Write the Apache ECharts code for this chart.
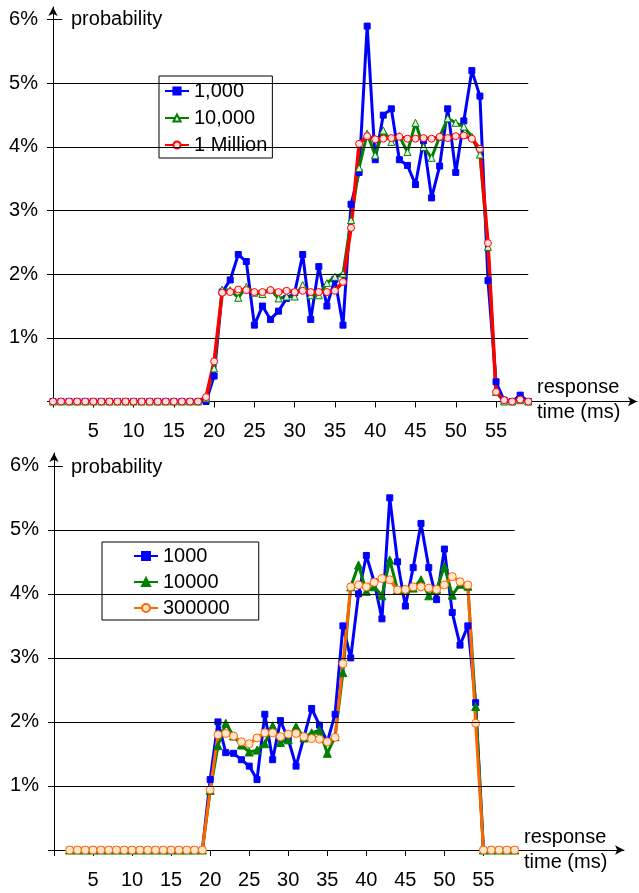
<!DOCTYPE html>
<html><head><meta charset="utf-8">
<script src="https://cdn.jsdelivr.net/npm/echarts@6/dist/echarts.min.js"></script>
<style>html,body{margin:0;padding:0;background:#fff}#c{width:639px;height:893px}</style>
</head><body><div id="c"></div>
<script>
// ---------- data ----------
const topX = [0,1,2,3,4,5,6,7,8,9,10,11,12,13,14,15,16,17,18,19,20,21,22,23,24,25,26,27,28,29,30,31,32,33,34,35,36,37,38,39,40,41,42,43,44,45,46,47,48,49,50,51,52,53,54,55,56,57,58,59];
const topBlue = [0,0,0,0,0,0,0,0,0,0,0,0,0,0,0,0,0,0,0,0,
  0.40,1.72,1.91,2.31,2.20,1.20,1.50,1.29,1.42,1.62,
  1.71,2.31,1.29,2.12,1.50,1.92,1.20,3.10,3.60,5.90,
  3.80,4.50,4.60,3.80,3.71,3.41,4.10,3.20,3.70,4.60,
  3.60,4.41,5.20,4.80,1.90,0.31,0.02,0,0.10,0];
const topGreen = [0,0,0,0,0,0,0,0,0,0,0,0,0,0,0,0,0,0,0,0.05,
  0.52,1.76,1.75,1.63,1.80,1.71,1.69,1.76,1.62,1.65,
  1.65,1.83,1.67,1.67,1.86,1.96,2.01,2.85,3.67,4.21,
  3.87,4.26,4.08,4.17,3.92,4.38,4.00,3.83,4.16,4.45,
  4.38,4.32,4.16,3.88,2.43,0.15,0,0,0.02,0];
const topRed = [0,0,0,0,0,0,0,0,0,0,0,0,0,0,0,0,0,0,0,0.07,
  0.63,1.71,1.72,1.76,1.75,1.72,1.72,1.75,1.72,1.74,
  1.72,1.74,1.72,1.72,1.72,1.74,1.88,2.73,4.05,4.17,
  4.12,4.13,4.14,4.16,4.13,4.13,4.14,4.13,4.16,4.14,
  4.17,4.18,4.13,3.97,2.49,0.15,0.02,0,0.03,0];
const topNames = ['1,000','10,000','1 Million'];

const botX = [2,3,4,5,6,7,8,9,10,11,12,13,14,15,16,17,18,19,20,21,22,23,24,25,26,27,28,29,30,31,32,33,34,35,36,37,38,39,40,41,42,43,44,45,46,47,48,49,50,51,52,53,54,55,56,57,58,59];
const botBlue = [0,0,0,0,0,0,0,0,0,0,0,0,0,0,0,0,0,0,
  1.10,2.00,1.52,1.51,1.41,1.31,1.10,2.12,1.41,2.02,
  1.73,1.31,1.76,2.21,1.95,1.69,2.12,3.50,3.00,4.00,
  4.60,4.19,3.61,5.50,4.50,3.81,4.41,5.10,4.41,3.91,
  4.70,3.71,3.20,3.50,2.30,0,0,0,0,0];
const botGreen = [0,0,0,0,0,0,0,0,0,0,0,0,0,0,0,0,0,0,
  0.93,1.63,1.98,1.78,1.64,1.53,1.56,1.66,1.94,1.68,
  1.72,1.93,1.75,1.83,1.87,1.51,1.77,2.77,4.11,4.45,
  4.04,4.11,3.97,4.53,4.06,4.07,4.09,4.22,3.97,4.07,
  4.43,3.98,4.15,4.12,2.24,0,0,0,0,0];
const botOrange = [0,0,0,0,0,0,0,0,0,0,0,0,0,0,0,0,0,0,
  0.94,1.80,1.82,1.78,1.69,1.66,1.75,1.83,1.83,1.77,
  1.81,1.82,1.77,1.74,1.73,1.69,1.76,2.91,4.11,4.14,
  4.11,4.18,4.24,4.22,4.06,4.07,4.11,4.11,4.09,4.07,
  4.14,4.27,4.19,4.14,1.98,0,0,0,0,0];
const botNames = ['1000','10000','300000'];

const xTickValues = [0,5,10,15,20,25,30,35,40,45,50,55];
const xLabelValues = [5,10,15,20,25,30,35,40,45,50,55];
const yTickValues = [0,1,2,3,4,5,6];
const yLabelValues = [1,2,3,4,5,6];
const yGridValues = [1,2,3,4,5];
const xGridEnd = 59;

// ---------- chart ----------
const FONT = '"Liberation Sans", Arial, sans-serif';
function pairs(xs, ys) { return xs.map((x, i) => [x, ys[i]]); }

function xAxisCfg(gi, max) {
  return {
    type: 'value', gridIndex: gi, min: 0, max: max,
    axisLine: { show: true, onZero: false, lineStyle: { color: '#000', width: 1 }, symbol: ['none', 'arrow'], symbolSize: [7, 9] },
    axisTick: { show: true, inside: false, length: 6, customValues: xTickValues, lineStyle: { color: '#000', width: 1 } },
    axisLabel: { customValues: xLabelValues, margin: 20, color: '#000', fontSize: 20, fontFamily: FONT },
    splitLine: { show: false }
  };
}
function yAxisCfg(gi) {
  return {
    type: 'value', gridIndex: gi, min: 0, max: 6.2,
    axisLine: { show: true, onZero: false, lineStyle: { color: '#000', width: 1 }, symbol: ['none', 'arrow'], symbolSize: [7, 9] },
    axisTick: { show: true, inside: false, length: 6, customValues: yTickValues, lineStyle: { color: '#000', width: 1 } },
    axisLabel: { customValues: yLabelValues, margin: 15, color: '#000', fontSize: 20, fontFamily: FONT, formatter: v => v + '%' },
    splitLine: { show: false }
  };
}
function gridSeries(gi) {
  const d = yGridValues.map(v => [{ coord: [0, v] }, { coord: [xGridEnd, v] }]);
  d.push([{ coord: [0, 6] }, { coord: [1.15, 6] }]);
  return {
    type: 'line', xAxisIndex: gi, yAxisIndex: gi, data: [], z: 1, silent: true,
    markLine: { silent: true, symbol: ['none', 'none'], label: { show: false },
      lineStyle: { color: '#000', width: 1, type: 'solid' }, emphasis: { disabled: true }, data: d }
  };
}
function lineSeries(gi, name, xs, ys, color, symbol, size, fill, lw) {
  return {
    type: 'line', name: name, xAxisIndex: gi, yAxisIndex: gi, z: 3,
    data: pairs(xs, ys), symbol: symbol, symbolSize: size, showAllSymbol: true,
    lineStyle: { color: color, width: lw },
    itemStyle: { color: fill, borderColor: color, borderWidth: 1 },
    emphasis: { disabled: true }
  };
}

const chart = echarts.init(document.getElementById('c'));
chart.setOption({
  animation: false,
  backgroundColor: '#fff',
  grid: [
    { left: 53, top: 7, width: 584, height: 394.5 },
    { left: 54, top: 453, width: 570, height: 397 }
  ],
  xAxis: [xAxisCfg(0, 72.5), xAxisCfg(1, 73)],
  yAxis: [yAxisCfg(0), yAxisCfg(1)],
  legend: [
    { data: topNames, orient: 'vertical', left: 159, top: 76, padding: [5, 5, 3, 5], itemGap: 7,
      itemWidth: 24, itemHeight: 9, borderColor: '#000', borderWidth: 1, backgroundColor: '#fff',
      textStyle: { color: '#000', fontSize: 20, fontFamily: FONT } },
    { data: botNames, orient: 'vertical', left: 102, top: 542, padding: [4, 29, 2, 31], itemGap: 6,
      itemWidth: 24, itemHeight: 10, borderColor: '#000', borderWidth: 1, backgroundColor: '#fff',
      textStyle: { color: '#000', fontSize: 20, fontFamily: FONT } }
  ],
  graphic: [
    { type: 'text', x: 71, y: 19, style: { text: 'probability', fontSize: 20, fontFamily: FONT, fill: '#000', verticalAlign: 'middle' } },
    { type: 'text', x: 537, y: 387, style: { text: 'response', fontSize: 20, fontFamily: FONT, fill: '#000', verticalAlign: 'middle' } },
    { type: 'text', x: 537, y: 412, style: { text: 'time (ms)', fontSize: 20, fontFamily: FONT, fill: '#000', verticalAlign: 'middle' } },
    { type: 'text', x: 71, y: 467, style: { text: 'probability', fontSize: 20, fontFamily: FONT, fill: '#000', verticalAlign: 'middle' } },
    { type: 'text', x: 524, y: 837, style: { text: 'response', fontSize: 20, fontFamily: FONT, fill: '#000', verticalAlign: 'middle' } },
    { type: 'text', x: 524, y: 862, style: { text: 'time (ms)', fontSize: 20, fontFamily: FONT, fill: '#000', verticalAlign: 'middle' } }
  ],
  series: [
    gridSeries(0),
    gridSeries(1),
    lineSeries(0, topNames[0], topX, topBlue, '#0000FF', 'rect', 6, '#0000FF', 3),
    lineSeries(0, topNames[1], topX, topGreen, '#008000', 'triangle', 7, '#E6F2E6', 3),
    lineSeries(0, topNames[2], topX, topRed, '#FF0000', 'circle', 7, '#FFE0E0', 3.5),
    lineSeries(1, botNames[0], botX, botBlue, '#0000FF', 'rect', 6, '#0000FF', 3),
    lineSeries(1, botNames[1], botX, botGreen, '#008000', 'triangle', 8, '#008000', 3),
    lineSeries(1, botNames[2], botX, botOrange, '#FF6600', 'circle', 8, '#FFE6CC', 3)
  ]
});
</script>
</body></html>
